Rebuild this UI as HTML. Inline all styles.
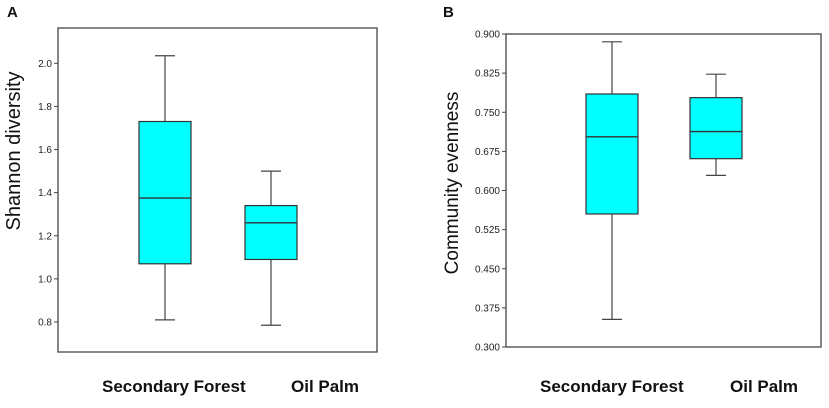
<!DOCTYPE html>
<html><head><meta charset="utf-8"><style>
body{margin:0;background:#fff;}
svg{display:block;font-family:"Liberation Sans",Arial,sans-serif;}
</style></head><body>
<svg id="c" width="829" height="408"></svg>
<script>
const categories=["Secondary Forest","Oil Palm"];
const shannonStats=[[0.81,1.07,1.375,1.73,2.035],[0.785,1.09,1.26,1.34,1.50]];
const shannonTicks=["0.8","1.0","1.2","1.4","1.6","1.8","2.0"];
const evenStats=[[0.353,0.555,0.703,0.785,0.885],[0.629,0.661,0.713,0.778,0.823]];
const evenTicks=["0.300","0.375","0.450","0.525","0.600","0.675","0.750","0.825","0.900"];
const NS="http://www.w3.org/2000/svg";
const svg=document.getElementById('c');
function mk(t,a,p){const e=document.createElementNS(NS,t);for(const k in a)e.setAttribute(k,a[k]);(p||svg).appendChild(e);return e;}
function panel(cfg){
 const g=mk('g',{});
 
 
 const y=v=>cfg.y0+(v-cfg.v0)/(cfg.v1-cfg.v0)*(cfg.y1-cfg.y0);
 const f=mk('rect',{x:cfg.fx0,y:cfg.fy0,width:cfg.fx1-cfg.fx0,height:cfg.fy1-cfg.fy0,fill:'none',stroke:'#444','stroke-width':1.3},g);
 
 
 cfg.ticks.forEach(t=>{const v=parseFloat(t),yy=y(v);
  const l=mk('line',{x1:cfg.fx0-4,x2:cfg.fx0,y1:yy,y2:yy,stroke:'#444'},g);
  
  
  const tx=mk('text',{x:cfg.fx0-6,y:yy+3.5,'text-anchor':'end','font-size':10,fill:'#222'},g);
  tx.textContent=t;
  
  
 });
 cfg.stats.forEach((s,i)=>{const cx=cfg.cx[i],hw=26,cw=10;
  const bg=mk('g',{},g);
  
  
  mk('line',{x1:cx,x2:cx,y1:y(s[0]),y2:y(s[4]),stroke:'#444','stroke-width':1.2},bg);
  mk('line',{x1:cx-cw,x2:cx+cw,y1:y(s[0]),y2:y(s[0]),stroke:'#444','stroke-width':1.2},bg);
  mk('line',{x1:cx-cw,x2:cx+cw,y1:y(s[4]),y2:y(s[4]),stroke:'#444','stroke-width':1.2},bg);
  mk('rect',{x:cx-hw,y:y(s[3]),width:2*hw,height:y(s[1])-y(s[3]),fill:'#00ffff',stroke:'#333','stroke-width':1.2},bg);
  mk('line',{x1:cx-hw,x2:cx+hw,y1:y(s[2]),y2:y(s[2]),stroke:'#333','stroke-width':1.4},bg);
  const xl=mk('text',{x:cfg.lx[i],y:392,'font-size':17,'font-weight':'bold',fill:'#111'},g);
  xl.textContent=categories[i];
  
  
 });
 const yt=mk('text',{x:0,y:0,transform:`translate(${cfg.tx},${cfg.ty}) rotate(-90)`,'text-anchor':'middle','font-size':cfg.tfs,fill:'#111'},g);
 yt.textContent=cfg.title;
 
 
 const pl=mk('text',{x:cfg.px,y:17,'font-size':15,'font-weight':'bold',fill:'#111'},g);
 pl.textContent=cfg.letter;
 
 
}
panel({name:'panel-a',letter:'A',px:7,fx0:58,fx1:377,fy0:28,fy1:352,v0:0.8,v1:2.0,y0:322,y1:63.3,
 ticks:shannonTicks,stats:shannonStats,cx:[165,271],lx:[102,291],title:'Shannon  diversity',tx:20,ty:151,tfs:20});
panel({name:'panel-b',letter:'B',px:443,fx0:506,fx1:821,fy0:34,fy1:347,v0:0.3,v1:0.9,y0:347,y1:34,
 ticks:evenTicks,stats:evenStats,cx:[612,716],lx:[540,730],title:'Community evenness',tx:458,ty:183,tfs:19});
</script>
</body></html>
